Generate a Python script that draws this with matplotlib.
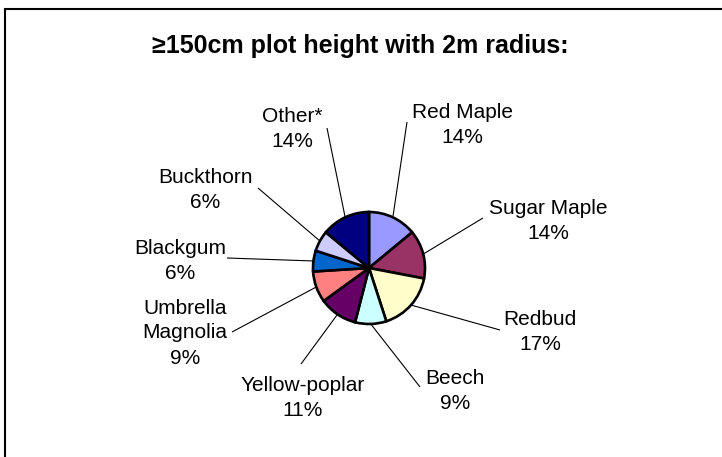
import matplotlib
matplotlib.use("Agg")
import matplotlib.pyplot as plt
from matplotlib.patches import Rectangle
import numpy as np

plt.rcParams['font.family'] = ['Liberation Sans', 'DejaVu Sans']

# Species share of stems >=150cm tall (percent)
species = ['Red Maple', 'Sugar Maple', 'Redbud', 'Beech', 'Yellow-poplar',
           'Umbrella\nMagnolia', 'Blackgum', 'Buckthorn', 'Other*']
shares = [14, 14, 17, 9, 11, 9, 6, 6, 14]
colors = ['#9999FF', '#993366', '#FFFFCC', '#CCFFFF', '#660066',
          '#FF8080', '#0066CC', '#CCCCFF', '#000080']

W, H = 722, 457
CX, CY, R = 369, 268, 56   # pie centre / radius in pixels from top-left

# label centres and where each leader line leaves the label (pixels, top-left origin)
label_xy = [(462, 125), (548, 221), (540, 332), (455, 391), (303, 398),
            (185, 333), (180, 261), (205, 190), (292, 129)]
leader_start = [(407, 122), (483, 218), (500, 330), (420, 387), (301, 364),
                (232, 332), (227, 258), (258, 188), (327, 128)]

fig = plt.figure(figsize=(W / 100, H / 100), dpi=100)
ax = fig.add_axes([0, 0, 1, 1])

ax.pie(shares, colors=colors, startangle=90, counterclock=False,
       center=(CX, H - CY), radius=R,
       wedgeprops=dict(edgecolor='black', linewidth=1.9))
ax.set_xlim(0, W)
ax.set_ylim(0, H)
ax.set_aspect('equal')
ax.axis('off')

# leader lines run from the label to the middle of each wedge's arc
total = float(sum(shares))
cum = np.cumsum([0] + shares[:-1])
for i, (name, val) in enumerate(zip(species, shares)):
    theta = np.deg2rad(90 - 360 * (cum[i] + val / 2) / total)
    px = CX + R * np.cos(theta)
    py = (H - CY) + R * np.sin(theta)
    sx, sy = leader_start[i]
    ax.plot([sx, px], [H - sy, py], color='black', lw=0.8, solid_capstyle='butt')
    lx, ly = label_xy[i]
    ax.text(lx, H - ly, f'{name}\n{val}%', ha='center', va='center',
            fontsize=15, linespacing=1.4, multialignment='center')

ax.text(360, H - 46, '\u2265150cm plot height with 2m radius:', ha='center',
        va='center', fontsize=18, fontweight='bold')

# chart frame
ax.add_patch(Rectangle((5, -20), W + 20, H - 9 + 20, fill=False,
                       edgecolor='black', lw=1.5, clip_on=False))

fig.savefig('out.png', dpi=100)
